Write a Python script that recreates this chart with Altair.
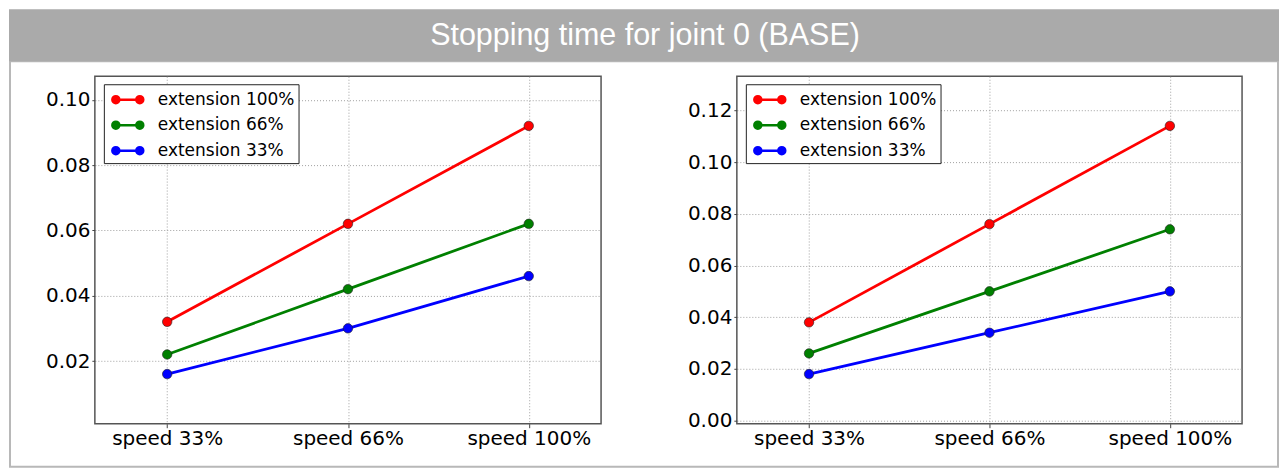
import json
import pandas as pd
import altair as alt

# ---------------- data ----------------
title_text = "Stopping time for joint 0 (BASE)"
speeds = ["speed 33%", "speed 66%", "speed 100%"]
series = ["extension 100%", "extension 66%", "extension 33%"]
colors = ["#ff0000", "#008000", "#0000ff"]

left_ext100 = [0.032, 0.062, 0.092]
left_ext66 = [0.022, 0.042, 0.062]
left_ext33 = [0.016, 0.030, 0.046]

right_ext100 = [0.038, 0.076, 0.114]
right_ext66 = [0.026, 0.050, 0.074]
right_ext33 = [0.018, 0.034, 0.050]

left_ticks = [0.02, 0.04, 0.06, 0.08, 0.10]
right_ticks = [0.00, 0.02, 0.04, 0.06, 0.08, 0.10, 0.12]

# ---------------- helpers ----------------
LABEL_EXPR = json.dumps(speeds) + "[round(datum.value)]"

# legend symbol: two dots joined by a line (stroke-only path; inner ring fills dot)
def circ(cx, r):
    return (f"M {cx - r:.3f} 0 A {r} {r} 0 1 0 {cx + r:.3f} 0 "
            f"A {r} {r} 0 1 0 {cx - r:.3f} 0 Z ")

C1, C2 = -0.35, 2.05
SYMBOL = (circ(C1, 0.35) + circ(C1, 0.1) + circ(C2, 0.35) + circ(C2, 0.1)
          + f"M {C1} 0 L {C2} 0")

W_L, W_R, H = 507, 506, 348


def make_df(a, b, c):
    rows = []
    for name, vals in zip(series, [a, b, c]):
        for i, (sp, v) in enumerate(zip(speeds, vals)):
            rows.append({"speed": sp, "xi": i, "ext": name, "value": v})
    return pd.DataFrame(rows)


def panel(a, b, c, ticks, width, decor=False):
    df = make_df(a, b, c)
    lo = min(a + b + c)
    hi = max(a + b + c)
    rng = hi - lo
    ydom = [lo - 0.2 * rng, hi + 0.2 * rng]

    x = alt.X("xi:Q", scale=alt.Scale(domain=[-0.4, 2.4], nice=False, zero=False),
              axis=alt.Axis(values=[0, 1, 2], labelExpr=LABEL_EXPR, title=None,
                            tickSize=4, labelPadding=1))
    y = alt.Y("value:Q", scale=alt.Scale(domain=ydom, nice=False, zero=False),
              axis=alt.Axis(values=ticks, format=".2f", title=None,
                            tickSize=3, labelPadding=2))
    color_scale = alt.Scale(domain=series, range=colors)

    base = alt.Chart(df)
    line = base.mark_line(strokeWidth=2.8).encode(
        x=x, y=y,
        color=alt.Color("ext:N", scale=color_scale, legend=alt.Legend(
            orient="none", legendX=9, legendY=8, title=None,
            symbolType=SYMBOL, symbolSize=400, symbolStrokeWidth=2.5,
            labelFont="DejaVu Sans", labelFontSize=17, labelColor="black",
            labelOffset=27, padding=4, rowPadding=5.5,
            strokeColor="#222222", fillColor="white")),
        detail="ext:N",
    )
    pts = base.mark_point(filled=True, size=90, opacity=1, stroke="#222222",
                          strokeWidth=0.6).encode(
        x=x, y=y,
        color=alt.Color("ext:N", scale=color_scale, legend=None),
    )
    layers = [line, pts]
    if decor:
        hdr = alt.Chart(pd.DataFrame({"t": [title_text]}))
        border = hdr.mark_rect(fill="white", fillOpacity=0, stroke="#b8b8b8",
                               strokeWidth=2).encode(
            x=alt.value(-85), x2=alt.value(1185), y=alt.value(-15), y2=alt.value(391))
        bar = hdr.mark_rect(color="#aaaaaa").encode(
            x=alt.value(-86), x2=alt.value(1186), y=alt.value(-67), y2=alt.value(-15))
        txt = hdr.mark_text(font="Liberation Sans", fontSize=30.5, color="white",
                            align="center", baseline="middle").encode(
            x=alt.value(551), y=alt.value(-40), text="t:N")
        layers = [border, bar, txt] + layers
    return alt.layer(*layers).properties(width=width, height=H)


left = panel(left_ext100, left_ext66, left_ext33, left_ticks, W_L, decor=True)
right = panel(right_ext100, right_ext66, right_ext33, right_ticks, W_R)

chart = alt.HConcatChart(hconcat=[left, right], spacing=136, bounds="flush").resolve_scale(
    color="independent", y="independent"
).resolve_legend(color="independent").properties(
    padding=0, background="white"
).configure_view(
    stroke="#555555", strokeWidth=1.5
).configure_axis(
    labelFont="DejaVu Sans", labelFontSize=20, labelColor="black",
    domain=False, tickColor="#444444", tickWidth=1,
    grid=True, gridColor="#a0a0a0", gridDash=[1, 2], gridWidth=1,
)

chart.save("out.html", embed_options={"renderer": "svg", "actions": False})
